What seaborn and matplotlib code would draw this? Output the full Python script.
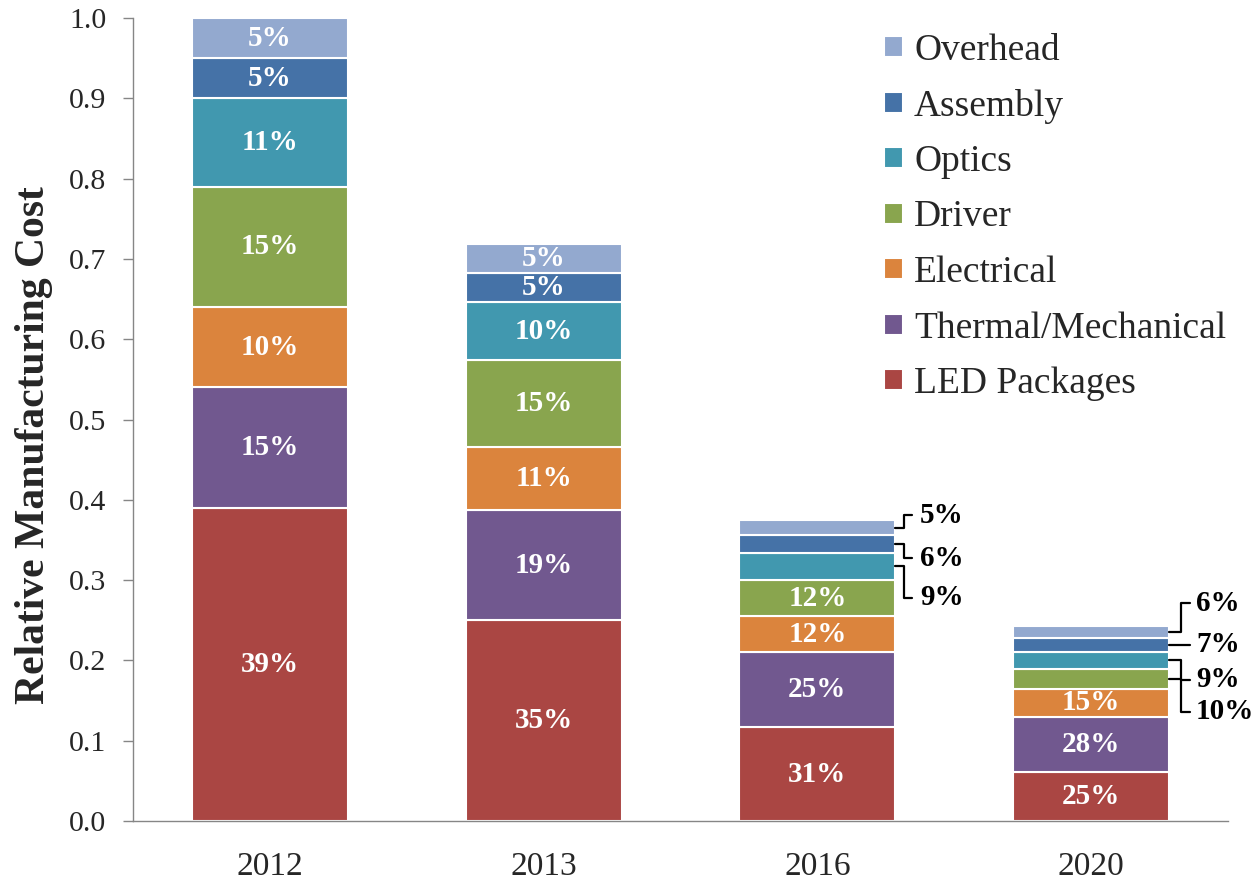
import numpy as np
import pandas as pd
import seaborn as sns
import matplotlib.pyplot as plt

# ---------------- data ----------------
years = ["2012", "2013", "2016", "2020"]
components = ["LED Packages", "Thermal/Mechanical", "Electrical", "Driver",
              "Optics", "Assembly", "Overhead"]

led_packages = [0.390, 0.250, 0.117, 0.061]
thermal_mech = [0.150, 0.137, 0.093, 0.068]
electrical = [0.100, 0.079, 0.045, 0.036]
driver = [0.150, 0.108, 0.045, 0.024]
optics = [0.110, 0.072, 0.034, 0.022]
assembly = [0.050, 0.036, 0.022, 0.017]
overhead = [0.050, 0.036, 0.019, 0.015]

pct_led = [39, 35, 31, 25]
pct_thermal = [15, 19, 25, 28]
pct_electrical = [10, 11, 12, 15]
pct_driver = [15, 15, 12, 10]
pct_optics = [11, 10, 9, 9]
pct_assembly = [5, 5, 6, 7]
pct_overhead = [5, 5, 5, 6]

heights = [led_packages, thermal_mech, electrical, driver, optics, assembly, overhead]
pcts = [pct_led, pct_thermal, pct_electrical, pct_driver, pct_optics, pct_assembly, pct_overhead]
colors = ["#AA4643", "#71588F", "#DB843D", "#89A54E", "#4198AF", "#4572A7", "#93A9CF"]

# segments labelled outside the bar: (year index, component index, label y)
callouts = [
    (2, 6, 0.381), (2, 5, 0.327), (2, 4, 0.278),
    (3, 6, 0.271), (3, 5, None), (3, 4, 0.176), (3, 3, 0.136),
]

# ---------------- style ----------------
sns.set_style("white")
plt.rcParams["font.family"] = ["Liberation Serif", "DejaVu Serif"]

fig = plt.figure(figsize=(12.59, 8.84), dpi=100)
ax = fig.add_axes([133 / 1259, 63 / 884, (1228 - 133) / 1259, (821 - 18) / 884])

bar_w = 0.57
bottom = np.zeros(len(years))
mids = []
for comp, h, col in zip(components, heights, colors):
    h = np.array(h)
    sns.barplot(x=years, y=h, bottom=bottom, color=col, width=bar_w,
                edgecolor="white", linewidth=1.5, errorbar=None, ax=ax,
                saturation=1, label=comp)
    mids.append(bottom + h / 2)
    bottom = bottom + h

outside = {(c[0], c[1]) for c in callouts}
for ci, (p, m) in enumerate(zip(pcts, mids)):
    for yi in range(len(years)):
        if (yi, ci) in outside:
            continue
        ax.text(yi, m[yi], f"{p[yi]}%", ha="center", va="center",
                color="white", fontweight="bold", fontsize=21)

half = bar_w / 2
for yi, ci, ly in callouts:
    x0 = yi + half
    y0 = mids[ci][yi]
    if yi == 2:
        xe, xend, xt = x0 + 0.03, x0 + 0.062, x0 + 0.09
    else:
        xe, xend, xt = x0 + 0.044, x0 + 0.078, x0 + 0.098
    if ly is None:
        ax.plot([x0, xend], [y0, y0], color="black", lw=1.6, clip_on=False)
        ly = y0
    else:
        ax.plot([x0, xe, xe, xend], [y0, y0, ly, ly], color="black", lw=1.6,
                clip_on=False)
    ax.text(xt, ly, f"{pcts[ci][yi]}%", ha="left", va="center",
            color="black", fontweight="bold", fontsize=21, clip_on=False)

# ---------------- axes ----------------
ax.set_xlim(-0.5, 3.5)
ax.set_ylim(0, 1.0)
ax.set_yticks(np.arange(0, 1.01, 0.1))
ax.set_yticklabels([f"{v:.1f}" for v in np.arange(0, 1.01, 0.1)], fontsize=21.5)
ax.set_xticks(range(len(years)))
ax.set_xticklabels(years, fontsize=24)
ax.set_xticks(np.arange(-0.5, 3.6, 1.0), minor=True)
ax.tick_params(axis="x", which="major", length=0, pad=22)
ax.tick_params(axis="x", which="minor", length=7, color="#868686", width=1, direction="out")
ax.tick_params(axis="y", length=7, color="#868686", width=1, direction="out", pad=12, left=True)
ax.set_xlabel("")
ax.set_ylabel("Relative Manufacturing Cost", fontsize=30, fontweight="bold")
ax.yaxis.set_label_coords(-0.073, 0.468)

for s in ["top", "right"]:
    ax.spines[s].set_visible(False)
for s in ["left", "bottom"]:
    ax.spines[s].set_color("#868686")
    ax.spines[s].set_linewidth(1)
ax.grid(False)

handles, labels = ax.get_legend_handles_labels()
ax.legend(handles[::-1], labels[::-1], loc="upper left",
          bbox_to_anchor=(884 / 1259, 1 - 33 / 884), bbox_transform=fig.transFigure,
          frameon=False, fontsize=27, handlelength=0.5, handleheight=0.5,
          handletextpad=0.3, labelspacing=0.56, borderpad=0, borderaxespad=0)

fig.savefig("out.png", dpi=100)
